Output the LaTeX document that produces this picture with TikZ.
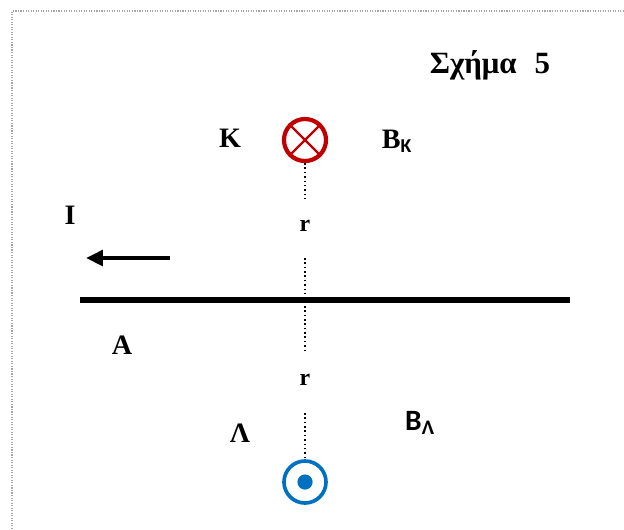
\documentclass[tikz,border=0pt]{standalone}
\usepackage{fontspec}
\setmainfont{Liberation Serif}
\newfontfamily\labelsans{Carlito}
\usetikzlibrary{arrows.meta, positioning}

\definecolor{wirered}{HTML}{C00000}
\definecolor{wireblue}{HTML}{0070C0}

\tikzset{
    lbl/.style={font=\fontsize{20}{22}\selectfont\bfseries, inner sep=0pt},
    wire/.style={circle, minimum size=1.05cm, inner sep=0pt, line width=3pt},
    gap/.style={dotted, line width=1.1pt}
}

\begin{document}
\begin{tikzpicture}[x=0.025cm, y=-0.025cm]
    \useasboundingbox (0,0) rectangle (624,529);
    \draw[gray!70, densely dotted, line width=0.8pt] (12,529) -- (12,11) -- (624,11);
    \node[lbl, font=\fontsize{22}{24}\selectfont\bfseries] (title) at (490,65) {Σχήμα\,\, 5};
    % current in the wire
    \draw[line width=3.6pt] (80,300) -- (570,300);
    \coordinate (arrs) at (170,258);
    \coordinate (arre) at (86,258);
    \draw[line width=2.8pt, -{Triangle[length=12pt, width=11pt]}] (arrs) -- (arre);
    \node[lbl] (cur) at (70,215) {I};
    \node[lbl] (a) at (122,345) {A};
    % point K
    \node[wire, draw=wirered] (kin) at (305,140) {};
    \draw[wirered, line width=1.7pt] (kin.north west) -- (kin.south east);
    \draw[wirered, line width=1.7pt] (kin.north east) -- (kin.south west);
    \node[lbl] (k) at (230,138) {K};
    \node[lbl] (bk) at (397,141) {B\textsubscript{\labelsans K}};
    % point L
    \node[wire, draw=wireblue, line width=2.6pt] (lout) at (305,482) {};
    \fill[wireblue] (lout) circle (0.19cm);
    \node[lbl] (l) at (240,433) {Λ};
    \node[lbl, font=\fontsize{21}{23}\selectfont\bfseries\labelsans] (bl) at (420,423) {B\textsubscript{Λ}};
    % distances
    \node[lbl, font=\fontsize{17}{19}\selectfont\bfseries] (r1) at (305,226) {r};
    \node[lbl, font=\fontsize{17}{19}\selectfont\bfseries] (r2) at (305,380) {r};
    \coordinate (g1) at (305,199);
    \coordinate (g2) at (305,258);
    \coordinate (g3) at (305,353);
    \coordinate (g4) at (305,413);
    \draw[gap] (kin.south) -- (g1);
    \draw[gap] (g2) -- (g3);
    \draw[gap] (g4) -- (lout.north);
\end{tikzpicture}
\end{document}
